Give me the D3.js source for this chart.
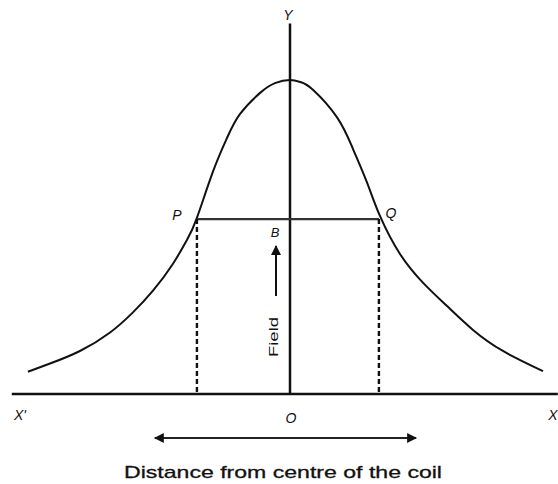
<!DOCTYPE html>
<html>
<head>
<meta charset="utf-8">
<script src="https://cdn.jsdelivr.net/npm/d3@7"></script>
<style>
html,body{margin:0;padding:0;background:#fff;}
svg{display:block;}
text{font-family:"Liberation Sans",Arial,sans-serif;fill:#111;}
</style>
</head>
<body>
<svg id="chart" width="558" height="484"></svg>
<script>
// Distance from centre (arbitrary units) and field strength
const curveDistance = [-10.08,-9.23,-8.08,-6.92,-6.04,-5.27,-4.5,-3.96,-3.58,-2.96,-2.42,-1.92,-1.15,-0.58,0,0.42,0.88,1.81,2.42,2.96,3.46,4.23,5.12,6.04,7.04,8.19,9.73];
const curveField    = [0.71,0.97,1.37,1.96,2.60,3.29,4.15,4.91,5.61,7.09,8.16,8.92,9.59,9.90,10,9.93,9.69,8.81,7.81,6.74,5.67,4.46,3.54,2.80,2.04,1.37,0.73];
const pqDistance = [-3.58, 3.42];
const pqField = 5.57;
const axisDistance = [-10.7, 10.3];
const axisField = [0, 11.8];
const pointLabels = ["P", "Q"];

const svg = d3.select("#chart");
const x = d3.scaleLinear().domain([-10, 10]).range([30, 550]);
const y = d3.scaleLinear().domain([0, 10]).range([394, 80]);

// arrow marker
const defs = svg.append("defs");
defs.append("marker").attr("id","ah").attr("viewBox","0 0 10 10")
  .attr("refX",9).attr("refY",5).attr("markerWidth",5).attr("markerHeight",5)
  .attr("orient","auto-start-reverse")
  .append("path").attr("d","M0,0 L10,5 L0,10 Z").attr("fill","#111");

// X axis
svg.append("line").attr("x1",x(axisDistance[0])).attr("x2",x(axisDistance[1]))
  .attr("y1",y(0)).attr("y2",y(0)).attr("stroke","#111").attr("stroke-width",2.5);
// Y axis
svg.append("line").attr("x1",x(0)).attr("x2",x(0))
  .attr("y1",y(axisField[0])).attr("y2",y(axisField[1])).attr("stroke","#111").attr("stroke-width",2.5);

// curve
const pts = curveDistance.map((d,i)=>[d, curveField[i]]);
svg.append("path").datum(pts)
  .attr("d", d3.line().x(d=>x(d[0])).y(d=>y(d[1])).curve(d3.curveNatural))
  .attr("fill","none").attr("stroke","#111").attr("stroke-width",2);

// PQ horizontal
svg.append("line").attr("x1",x(pqDistance[0])).attr("x2",x(pqDistance[1]))
  .attr("y1",y(pqField)).attr("y2",y(pqField)).attr("stroke","#333").attr("stroke-width",2.2);
// dashed verticals
pqDistance.forEach(d=>{
  svg.append("line").attr("x1",x(d)).attr("x2",x(d))
    .attr("y1",y(pqField)).attr("y2",y(0))
    .attr("stroke","#111").attr("stroke-width",2.4).attr("stroke-dasharray","5,3");
});

// labels
const lab = (t,px,py,opts={})=>{
  const e = svg.append("text").attr("x",px).attr("y",py).text(t)
    .attr("font-size",opts.size||14).attr("text-anchor",opts.anchor||"middle");
  if(opts.italic) e.attr("font-style","italic");
  return e;
};
lab("Y", x(0)-2, 20, {size:14, italic:true});
lab(pointLabels[0], x(pqDistance[0])-20, y(pqField)+1, {size:14, italic:true});
lab(pointLabels[1], x(pqDistance[1])+12, y(pqField)-1, {size:14, italic:true});
lab("B", x(0)-15, y(pqField)+18, {size:13, italic:true});
lab("X'", 20, 420, {size:14, italic:true});
lab("O", x(0)+1, 423, {size:14, italic:true});
lab("X", 553, 420, {size:14, italic:true});

// field arrow
svg.append("line").attr("x1",x(0)-14).attr("x2",x(0)-14)
  .attr("y1",296).attr("y2",246).attr("stroke","#111").attr("stroke-width",2)
  .attr("marker-end","url(#ah)");
svg.append("text").attr("transform",`translate(${x(0)-12},337) rotate(-90)`)
  .attr("text-anchor","middle").attr("font-size",13)
  .attr("textLength",40).attr("lengthAdjust","spacingAndGlyphs").text("Field");

// distance double arrow
svg.append("line").attr("x1",x(-5.2)).attr("x2",x(4.85))
  .attr("y1",438).attr("y2",438).attr("stroke","#222").attr("stroke-width",2)
  .attr("marker-start","url(#ah)").attr("marker-end","url(#ah)");

svg.append("text").attr("x",x(0)-7).attr("y",478).attr("text-anchor","middle")
  .attr("font-size",17).attr("textLength",318).attr("lengthAdjust","spacingAndGlyphs")
  .attr("stroke","#111").attr("stroke-width",0.3)
  .text("Distance from centre of the coil");
</script>
</body>
</html>
